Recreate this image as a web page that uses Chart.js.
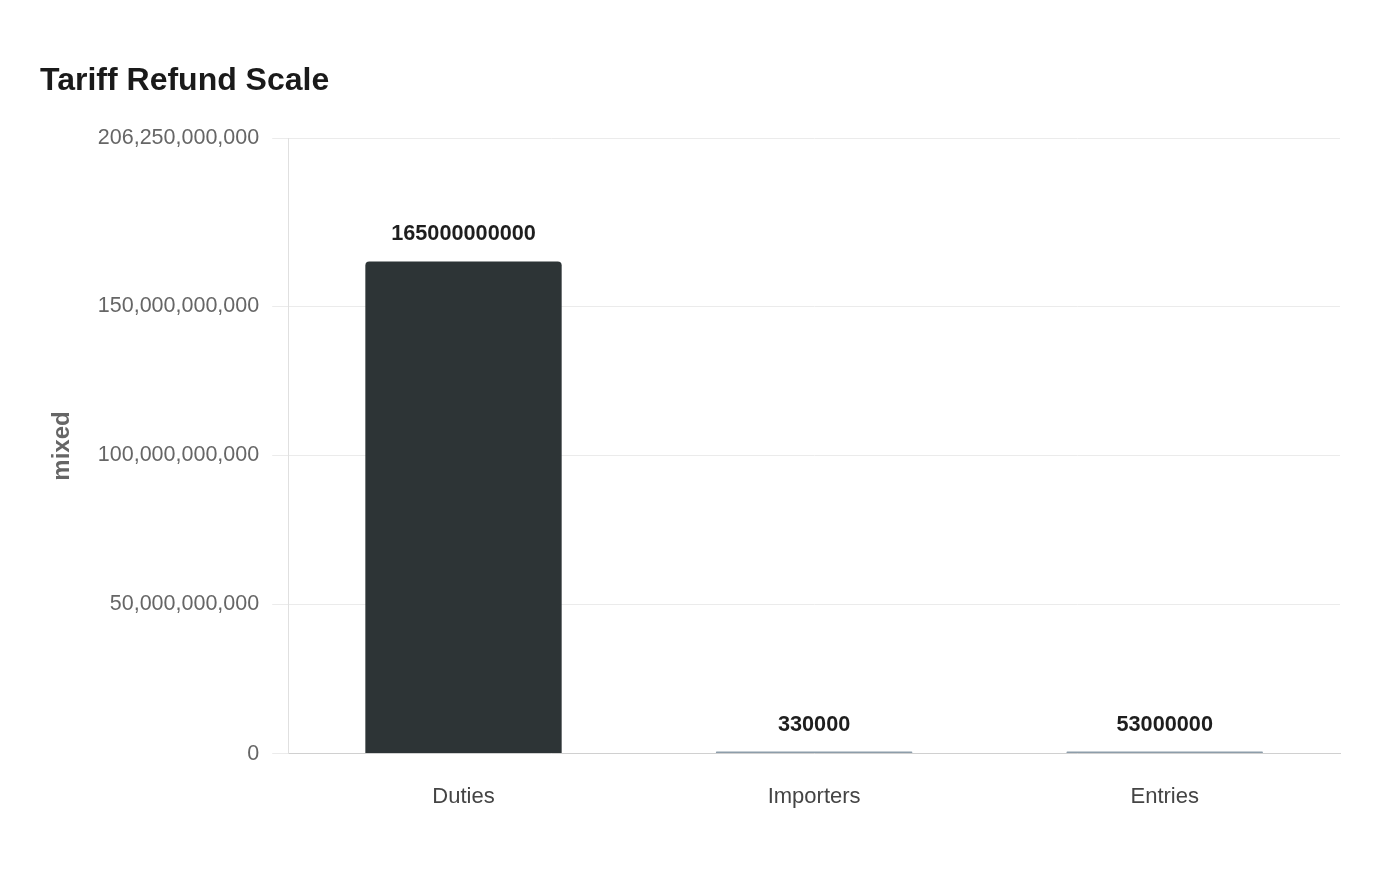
<!DOCTYPE html>
<html>
<head>
<meta charset="utf-8">
<script src="https://cdn.jsdelivr.net/npm/chart.js@4"></script>
<style>
html,body{margin:0;padding:0;background:#fff;}
#wrap{width:1400px;height:880px;}
</style>
</head>
<body>
<div id="wrap"><canvas id="c" width="1400" height="880"></canvas></div>
<script>
const categories = ["Duties", "Importers", "Entries"];
const values = [165000000000, 330000, 53000000];
const barColors = ["#2d3436", "#8d9daa", "#8d9daa"];
const yTicks = [0, 50000000000, 100000000000, 150000000000, 206250000000];
const yMax = 206250000000;

const FONT = '"Liberation Sans", Arial, sans-serif';

const labelPlugin = {
  id: 'valueLabels',
  afterDatasetsDraw(chart) {
    const ctx = chart.ctx;
    const meta = chart.getDatasetMeta(0);
    ctx.save();
    ctx.font = 'bold 21.7px ' + FONT;
    ctx.fillStyle = '#1e1e1e';
    ctx.textAlign = 'center';
    ctx.textBaseline = 'middle';
    meta.data.forEach((bar, i) => {
      ctx.fillText(String(values[i]), bar.x, bar.y - 27);
    });
    ctx.restore();
  }
};

new Chart(document.getElementById('c'), {
  type: 'bar',
  data: {
    labels: categories,
    datasets: [{
      data: values,
      backgroundColor: barColors,
      borderRadius: {topLeft: 4, topRight: 4, bottomLeft: 0, bottomRight: 0},
      borderSkipped: false,
      minBarLength: 2,
      barPercentage: 0.8,
      categoryPercentage: 0.7
    }]
  },
  options: {
    responsive: false,
    animation: false,
    devicePixelRatio: 1,
    layout: { padding: { left: 40, right: 60, top: 20, bottom: 40 } },
    plugins: {
      legend: { display: false },
      tooltip: { enabled: false },
      title: {
        display: true,
        text: 'Tariff Refund Scale',
        align: 'start',
        color: '#1a1a1a',
        font: { family: FONT, size: 32, weight: 'bold' },
        padding: { top: 42, bottom: 38 }
      }
    },
    scales: {
      x: {
        grid: { display: false, drawTicks: false },
        border: { color: '#d0d0d0', width: 1 },
        ticks: {
          color: '#444',
          font: { family: FONT, size: 22 },
          padding: 30
        }
      },
      y: {
        min: 0,
        max: yMax,
        afterBuildTicks(axis) { axis.ticks = yTicks.map(v => ({ value: v })); },
        grid: { color: '#ebebeb', tickLength: 16 },
        border: { color: '#e0e0e0', width: 1 },
        ticks: {
          color: '#666',
          font: { family: FONT, size: 21.5 },
          padding: 13,
          callback: v => Number(v).toLocaleString('en-US')
        },
        title: {
          display: true,
          text: 'mixed',
          color: '#666',
          font: { family: FONT, size: 24, weight: 'bold' },
          padding: { top: 8, bottom: 8 }
        }
      }
    }
  },
  plugins: [labelPlugin]
});
</script>
</body>
</html>
